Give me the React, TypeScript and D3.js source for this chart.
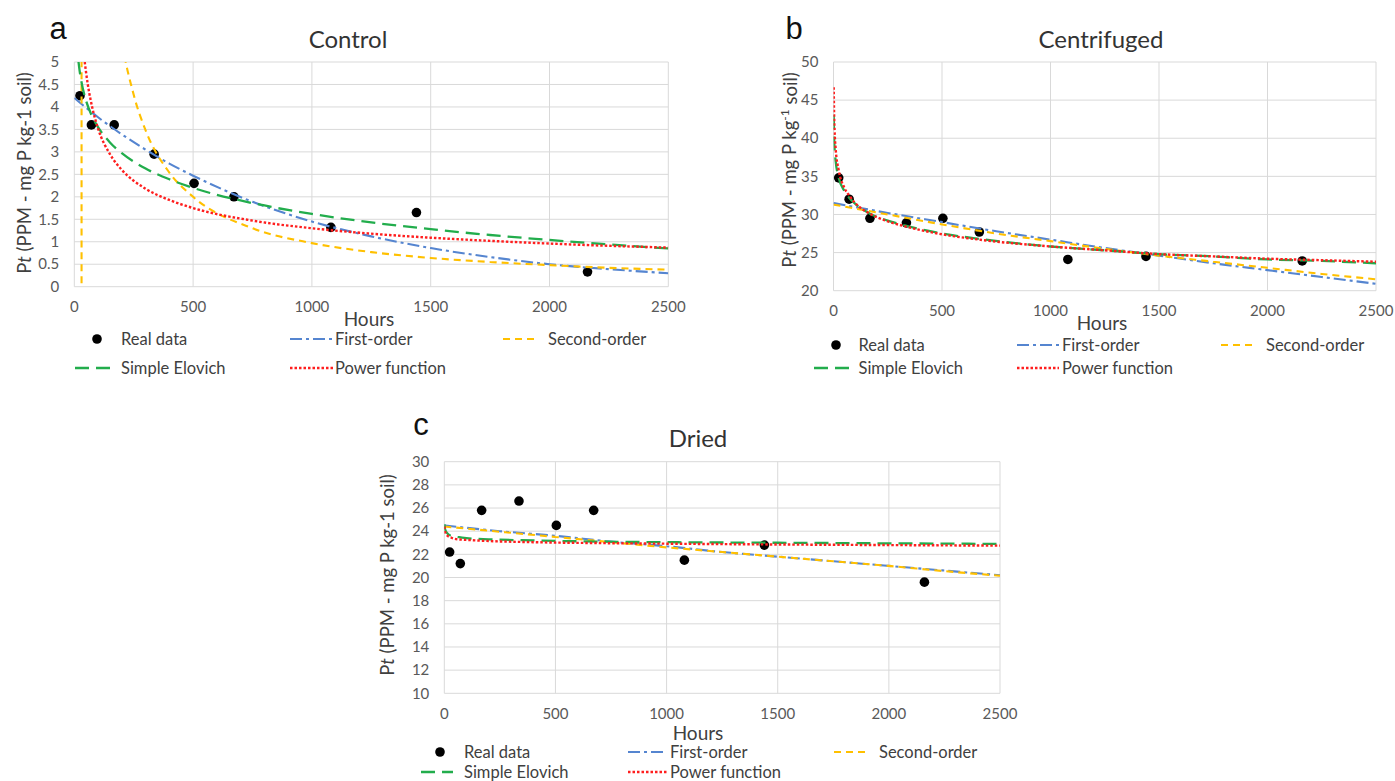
import React from "react";
import * as d3 from "d3";

// sampling times (hours) of the measured points
const hours = [24, 72, 168, 336, 504, 672, 1080, 1440, 2160];
const controlReal = [4.25, 3.6, 3.6, 2.95, 2.3, 2.0, 1.32, 1.65, 0.33];
const centrifugedReal = [34.8, 32.0, 29.5, 28.9, 29.5, 27.7, 24.1, 24.5, 23.9];
const driedReal = [22.2, 21.2, 25.8, 26.6, 24.5, 25.8, 21.5, 22.8, 19.6];

const xTicks = [0, 500, 1000, 1500, 2000, 2500];
const controlTicks = [0, 0.5, 1, 1.5, 2, 2.5, 3, 3.5, 4, 4.5, 5];
const centrifugedTicks = [20, 25, 30, 35, 40, 45, 50];
const driedTicks = [10, 12, 14, 16, 18, 20, 22, 24, 26, 28, 30];

const legendLabels = ["Real data", "First-order", "Second-order", "Simple Elovich", "Power function"];

// fitted model curves
const controlFirstT = [0, 100, 200, 300, 400, 500, 750, 1000, 1250, 1500, 1750, 2000, 2250, 2500];
const controlFirst = [4.2, 3.77, 3.39, 3.05, 2.74, 2.47, 1.89, 1.45, 1.12, 0.86, 0.66, 0.5, 0.39, 0.3];
const controlSecondT = [30.5, 31.5, 100, 150, 200, 250, 300, 400, 500, 750, 1000, 1250, 1500, 1750, 2000, 2250, 2500];
const controlSecond = [-5, 60, 13.4, 7.8, 5.5, 4.27, 3.48, 2.54, 2.0, 1.3, 0.97, 0.77, 0.64, 0.55, 0.48, 0.42, 0.38];
const controlElovichT = [10, 15, 20, 30, 50, 75, 100, 150, 200, 300, 400, 500, 750, 1000, 1250, 1500, 1750, 2000, 2250, 2500];
const controlElovich = [5.5, 5.15, 4.9, 4.56, 4.13, 3.79, 3.55, 3.21, 2.97, 2.63, 2.39, 2.2, 1.86, 1.62, 1.43, 1.28, 1.15, 1.04, 0.94, 0.85];
const controlPowerT = [20, 30, 40, 50, 75, 100, 150, 200, 300, 400, 500, 750, 1000, 1250, 1500, 1750, 2000, 2250, 2500];
const controlPower = [7.1, 5.9, 5.2, 4.75, 4.0, 3.52, 2.95, 2.6, 2.18, 1.93, 1.75, 1.47, 1.3, 1.18, 1.09, 1.02, 0.96, 0.91, 0.87];

const centrifugedFirstT = [0, 250, 500, 750, 1000, 1250, 1500, 1750, 2000, 2250, 2500];
const centrifugedFirst = [31.5, 30.2, 29.0, 27.8, 26.7, 25.6, 24.6, 23.6, 22.7, 21.8, 20.9];
const centrifugedSecondT = [0, 250, 500, 750, 1000, 1250, 1500, 1750, 2000, 2250, 2500];
const centrifugedSecond = [31.3, 30.0, 28.7, 27.5, 26.5, 25.5, 24.6, 23.8, 23.0, 22.2, 21.5];
const centrifugedModelT = [1, 3, 5, 10, 24, 50, 72, 100, 168, 250, 336, 500, 672, 1000, 1250, 1500, 1750, 2000, 2250, 2500];
const centrifugedElovich = [43.0, 39.9, 38.6, 37.0, 34.8, 33.1, 32.2, 31.4, 30.1, 29.2, 28.5, 27.5, 26.8, 25.8, 25.3, 24.8, 24.5, 24.1, 23.9, 23.6];
const centrifugedPower = [46.7, 42.9, 41.0, 38.6, 35.8, 33.5, 32.5, 31.5, 30.1, 29.1, 28.4, 27.4, 26.7, 25.8, 25.3, 24.8, 24.5, 24.2, 24.0, 23.8];

const driedFirstT = [0, 250, 500, 750, 1000, 1250, 1500, 1750, 2000, 2250, 2500];
const driedFirst = [24.5, 24.0, 23.6, 23.1, 22.7, 22.2, 21.8, 21.4, 21.0, 20.6, 20.2];
const driedSecond = [24.4, 23.95, 23.5, 23.05, 22.6, 22.2, 21.8, 21.4, 21.0, 20.55, 20.15];
const driedModelT = [1, 3, 10, 30, 60, 100, 200, 400, 700, 1000, 1500, 2000, 2500];
const driedElovich = [24.6, 24.2, 23.9, 23.6, 23.5, 23.4, 23.3, 23.2, 23.1, 23.05, 23.0, 22.95, 22.9];
const driedPower = [24.4, 24.0, 23.7, 23.45, 23.3, 23.25, 23.15, 23.05, 22.97, 22.92, 22.85, 22.8, 22.75];

const FONT = "Lato, 'Open Sans', sans-serif";
const STYLES = {
  first: { color: "#5585D0", dash: "12,4,3,4", width: 2.1 },
  second: { color: "#FFC000", dash: "7,5", width: 2.1 },
  elovich: { color: "#22AD4C", dash: "14,7", width: 2.3 },
  power: { color: "#FF1E1E", dash: "2.5,2", width: 2.4 },
};

const pairs = (t, v) => t.map((d, i) => [d, v[i]]);

const panels = [
  {
    id: "a", title: "Control", sup: false,
    box: { left: 74.3, right: 668.3, top: 62, bottom: 286.7 },
    yDomain: [0, 5], yTicks: controlTicks, real: controlReal,
    letterPos: [58, 39], titlePos: [348, 48], yLabelPos: [25, 173], hoursPos: [369, 326],
    curves: [
      { s: STYLES.first, d: pairs(controlFirstT, controlFirst) },
      { s: STYLES.second, d: pairs(controlSecondT, controlSecond) },
      { s: STYLES.elovich, d: pairs(controlElovichT, controlElovich) },
      { s: STYLES.power, d: pairs(controlPowerT, controlPower) },
    ],
    legend: { row1: 339, row2: 368, dot: 97, text1: 121, line2: [290, 333], text2: 335, line3: [503, 537], text3: 548, line4: [75, 115] },
  },
  {
    id: "b", title: "Centrifuged", sup: true,
    box: { left: 833.5, right: 1376, top: 62, bottom: 290.7 },
    yDomain: [20, 50], yTicks: centrifugedTicks, real: centrifugedReal,
    letterPos: [794, 39], titlePos: [1101, 48], yLabelPos: [790, 170], hoursPos: [1102, 330],
    curves: [
      { s: STYLES.first, d: pairs(centrifugedFirstT, centrifugedFirst) },
      { s: STYLES.second, d: pairs(centrifugedSecondT, centrifugedSecond) },
      { s: STYLES.elovich, d: pairs(centrifugedModelT, centrifugedElovich) },
      { s: STYLES.power, d: pairs(centrifugedModelT, centrifugedPower) },
    ],
    legend: { row1: 345, row2: 368, dot: 836, text1: 858.5, line2: [1017, 1059], text2: 1062, line3: [1221, 1255], text3: 1266, line4: [814, 849] },
  },
  {
    id: "c", title: "Dried", sup: false,
    box: { left: 444.3, right: 1000, top: 461.7, bottom: 693.3 },
    yDomain: [10, 30], yTicks: driedTicks, real: driedReal,
    letterPos: [421, 435], titlePos: [698, 447], yLabelPos: [388, 575], hoursPos: [698, 740],
    curves: [
      { s: STYLES.first, d: pairs(driedFirstT, driedFirst) },
      { s: STYLES.second, d: pairs(driedFirstT, driedSecond) },
      { s: STYLES.elovich, d: pairs(driedModelT, driedElovich) },
      { s: STYLES.power, d: pairs(driedModelT, driedPower) },
    ],
    legend: { row1: 752, row2: 772, dot: 440, text1: 464, line2: [628, 667], text2: 670, line3: [834, 867], text3: 879, line4: [421, 453] },
  },
];

function drawPanel(svg, p) {
  const { left, right, top, bottom } = p.box;
  const x = d3.scaleLinear().domain([0, 2500]).range([left, right]);
  const y = d3.scaleLinear().domain(p.yDomain).range([bottom, top]);
  const g = svg.append("g").attr("font-family", FONT);

  // grid
  g.append("g")
    .selectAll("line")
    .data(p.yTicks)
    .join("line")
    .attr("x1", left).attr("x2", right)
    .attr("y1", (d) => y(d)).attr("y2", (d) => y(d))
    .attr("stroke", "#d9d9d9");
  g.append("g")
    .selectAll("line")
    .data(xTicks)
    .join("line")
    .attr("x1", (d) => x(d)).attr("x2", (d) => x(d))
    .attr("y1", top).attr("y2", bottom)
    .attr("stroke", "#d9d9d9");

  // tick labels
  g.append("g")
    .selectAll("text")
    .data(p.yTicks)
    .join("text")
    .attr("x", left - 15)
    .attr("y", (d) => y(d))
    .attr("dy", "0.35em")
    .attr("text-anchor", "end")
    .attr("font-size", 15)
    .attr("fill", "#595959")
    .text((d) => String(d));
  g.append("g")
    .selectAll("text")
    .data(xTicks)
    .join("text")
    .attr("x", (d) => x(d))
    .attr("y", bottom + 20)
    .attr("dy", "0.35em")
    .attr("text-anchor", "middle")
    .attr("font-size", 15)
    .attr("fill", "#595959")
    .text((d) => String(d));

  // titles and labels
  g.append("text")
    .attr("x", p.letterPos[0]).attr("y", p.letterPos[1])
    .attr("text-anchor", "middle")
    .attr("font-family", "'Liberation Sans', Arial, sans-serif")
    .attr("font-size", 31)
    .attr("fill", "#111")
    .text(p.id);
  g.append("text")
    .attr("x", p.titlePos[0]).attr("y", p.titlePos[1])
    .attr("text-anchor", "middle")
    .attr("font-size", 24)
    .attr("fill", "#333")
    .text(p.title);
  g.append("text")
    .attr("x", p.hoursPos[0]).attr("y", p.hoursPos[1])
    .attr("text-anchor", "middle")
    .attr("font-size", 19)
    .attr("fill", "#404040")
    .text("Hours");

  const yl = g.append("text")
    .attr("transform", `translate(${p.yLabelPos[0]},${p.yLabelPos[1]}) rotate(-90)`)
    .attr("text-anchor", "middle")
    .attr("dy", "0.35em")
    .attr("font-size", 18.5)
    .attr("fill", "#404040");
  yl.append("tspan").text("P");
  yl.append("tspan").attr("font-style", "italic").text("t");
  if (p.sup) {
    yl.append("tspan").text(" (PPM - mg P kg");
    yl.append("tspan").attr("font-size", 12).attr("dy", "-0.6em").text("-1");
    yl.append("tspan").attr("dy", "0.4em").text(" soil)");
  } else {
    yl.append("tspan").text(" (PPM - mg P kg-1 soil)");
  }

  // data
  const clipId = `clip-${p.id}`;
  svg.append("clipPath").attr("id", clipId)
    .append("rect")
    .attr("x", left).attr("y", top)
    .attr("width", right - left).attr("height", bottom - top);

  g.append("g")
    .selectAll("circle")
    .data(hours.map((h, i) => [h, p.real[i]]))
    .join("circle")
    .attr("cx", (d) => x(d[0]))
    .attr("cy", (d) => y(d[1]))
    .attr("r", 4.8)
    .attr("fill", "#000");

  const line = d3.line()
    .x((d) => x(d[0]))
    .y((d) => y(d[1]))
    .curve(d3.curveMonotoneX);

  g.append("g")
    .attr("clip-path", `url(#${clipId})`)
    .selectAll("path")
    .data(p.curves)
    .join("path")
    .attr("fill", "none")
    .attr("stroke", (c) => c.s.color)
    .attr("stroke-width", (c) => c.s.width)
    .attr("stroke-dasharray", (c) => c.s.dash)
    .attr("d", (c) => line(c.d));

  // legend
  const L = p.legend;
  const lg = g.append("g").attr("font-size", 16.5).attr("fill", "#404040");
  lg.append("circle").attr("cx", L.dot).attr("cy", L.row1).attr("r", 4.8).attr("fill", "#000");
  const samples = [
    { s: STYLES.first, x: L.line2, y: L.row1 },
    { s: STYLES.second, x: L.line3, y: L.row1 },
    { s: STYLES.elovich, x: L.line4, y: L.row2 },
    { s: STYLES.power, x: L.line2, y: L.row2 },
  ];
  lg.selectAll("line")
    .data(samples)
    .join("line")
    .attr("x1", (d) => d.x[0]).attr("x2", (d) => d.x[1])
    .attr("y1", (d) => d.y).attr("y2", (d) => d.y)
    .attr("stroke", (d) => d.s.color)
    .attr("stroke-width", (d) => d.s.width)
    .attr("stroke-dasharray", (d) => d.s.dash);
  const labelPos = [
    [L.text1, L.row1], [L.text2, L.row1], [L.text3, L.row1], [L.text1, L.row2], [L.text2, L.row2],
  ];
  lg.selectAll("text")
    .data(legendLabels)
    .join("text")
    .attr("x", (d, i) => labelPos[i][0])
    .attr("y", (d, i) => labelPos[i][1])
    .attr("dy", "0.35em")
    .text((d) => d);
}

function App() {
  const ref = React.useRef(null);

  React.useEffect(() => {
    const svg = d3.select(ref.current);
    svg.selectAll("*").remove();
    panels.forEach((p) => drawPanel(svg, p));
  }, []);

  return (
    <svg
      ref={ref}
      width={1395}
      height={781}
      style={{ position: "absolute", left: 0, top: 0, background: "#fff" }}
    />
  );
}

export default App;
